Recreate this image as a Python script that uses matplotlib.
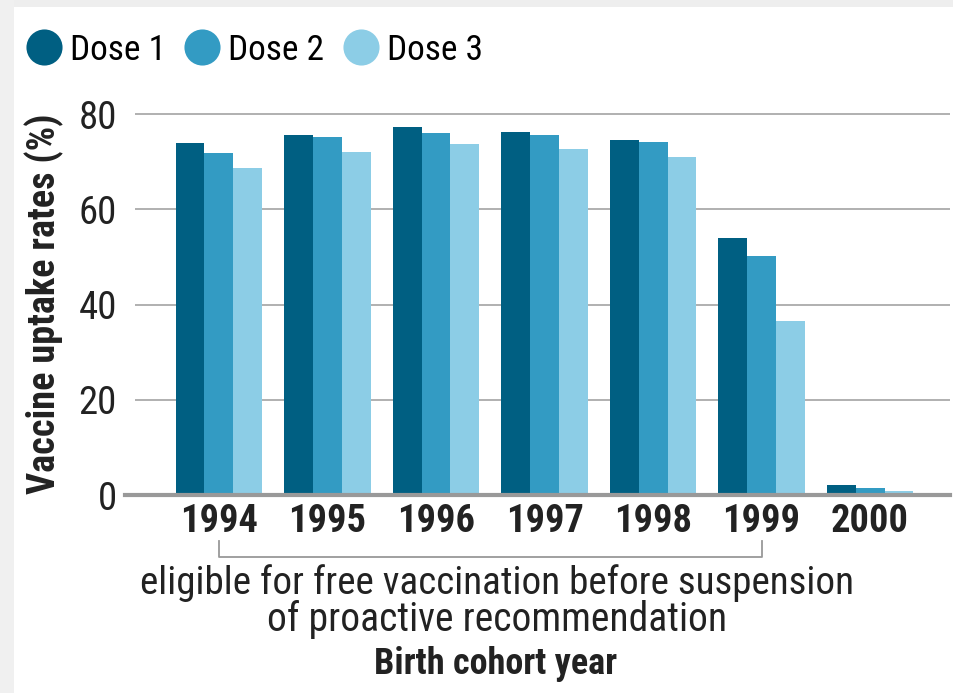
import matplotlib
matplotlib.use("Agg")
import matplotlib.pyplot as plt
from matplotlib import font_manager as fm
from matplotlib.lines import Line2D
from matplotlib.patches import Rectangle
import numpy as np

years = ["1994", "1995", "1996", "1997", "1998", "1999", "2000"]
dose1 = [73.9, 75.6, 77.3, 76.2, 74.5, 53.9, 2.1]
dose2 = [71.8, 75.1, 76.0, 75.6, 74.2, 50.2, 1.4]
dose3 = [68.7, 72.1, 73.8, 72.7, 70.9, 36.6, 0.8]
series_names = ["Dose 1", "Dose 2", "Dose 3"]
colors = ["#005f82", "#339bc3", "#8ccde6"]
yticks = [0, 20, 40, 60, 80]

# pick the narrowest available sans family
names = {f.name for f in fm.fontManager.ttflist}
chosen = None
for cand in ["Liberation Sans Narrow", "Roboto Condensed", "Open Sans Condensed",
             "Noto Sans Condensed", "Arial Narrow"]:
    if cand in names:
        chosen = cand
        break
stretch = "normal"
if chosen is None:
    for f in fm.fontManager.ttflist:
        st = f.stretch
        if f.name in ("Noto Sans", "Open Sans", "Roboto", "Inter") and \
                (st in ("condensed", "semi-condensed", "extra-condensed") or
                 (isinstance(st, (int, float)) and st < 500)):
            chosen = f.name
            stretch = "condensed"
            break
if chosen is None:
    chosen = "Liberation Sans" if "Liberation Sans" in names else "DejaVu Sans"
plt.rcParams['font.family'] = [chosen, 'DejaVu Sans']
plt.rcParams['font.stretch'] = stretch

W, H = 954, 693
fig = plt.figure(figsize=(W / 100, H / 100), dpi=100)
fig.patch.set_facecolor("white")

fig.patches.append(Rectangle((0, 1 - 7 / H), 1, 7 / H, transform=fig.transFigure,
                             facecolor="#eeeeee", edgecolor="none", zorder=0))
fig.patches.append(Rectangle((0, 0), 14 / W, 1, transform=fig.transFigure,
                             facecolor="#f0f0f0", edgecolor="none", zorder=0))

left, right = 135 / W, 950 / W
y0px, ytop = 495, 104.5
ax = fig.add_axes([left, 1 - y0px / H, right - left, (y0px - ytop) / H])

x = np.arange(len(years))
bw = 0.267
for i, (vals, c) in enumerate(zip([dose1, dose2, dose3], colors)):
    ax.bar(x + (i - 1) * bw, vals, width=bw, color=c, zorder=2, linewidth=0)

ax.set_ylim(0, 82)
ax.set_xlim(-0.774, 6.737)
ax.set_yticks(yticks)
ax.set_yticklabels([str(t) for t in yticks], fontsize=21, color="#222222")
ax.set_xticks(x)
ax.set_xticklabels(years, fontsize=22, fontweight="bold", color="#222222")
ax.tick_params(axis="y", length=0, pad=13)
ax.tick_params(axis="x", length=0, pad=6)
for s in ax.spines.values():
    s.set_visible(False)
for t in yticks[1:]:
    ax.axhline(t, color="#aaaaaa", linewidth=1.3, zorder=1)
ax.add_line(Line2D([-0.012, 1.0], [0, 0], transform=ax.transAxes, color="#999999",
                   linewidth=3, clip_on=False, zorder=3))

ylab = ax.set_ylabel("Vaccine uptake rates (%)", fontsize=21, fontweight="bold",
                     color="#222222")
ax.yaxis.set_label_coords((44 - 135) / (950 - 135), 0.49)
ylab.set_verticalalignment("center")

trans = ax.get_xaxis_transform()
yb_top = 1 - (541 - ytop) / (y0px - ytop)
yb_bot = 1 - (557 - ytop) / (y0px - ytop)
ax.add_line(Line2D([0, 0, 5, 5], [yb_top, yb_bot, yb_bot, yb_top], transform=trans,
                   color="#999999", linewidth=1.3, clip_on=False))

t1 = fig.text(497 / W, 1 - 583 / H, "eligible for free vaccination before suspension",
              ha="center", va="center", fontsize=24, color="#222222")
t2 = fig.text(497 / W, 1 - 619 / H, "of proactive recommendation",
              ha="center", va="center", fontsize=24, color="#222222")
t3 = fig.text(496 / W, 1 - 664 / H, "Birth cohort year",
              ha="center", va="center", fontsize=20, fontweight="bold", color="#222222")

handles = [Line2D([], [], marker="o", linestyle="none", markersize=26,
                  markerfacecolor=c, markeredgecolor="none") for c in colors]
leg = fig.legend(handles, series_names, loc="center left",
                 bbox_to_anchor=(28 / W, 1 - 50 / H), ncol=3, frameon=False,
                 fontsize=25, handlelength=0.9, handletextpad=0.3, columnspacing=0.6,
                 borderpad=0, borderaxespad=0)

# scale font sizes so text widths match the reference
fig.canvas.draw()
r = fig.canvas.get_renderer()


def fit(objs, ref, target, use_height=False, cap=None):
    bb = ref.get_window_extent(r)
    cur = bb.height if use_height else bb.width
    size = ref.get_fontsize() * target / cur
    if cap is not None:
        size = min(size, cap)
    for o in objs:
        o.set_fontsize(size)


fit([t1], t1, 715, cap=30)
fit([t2], t2, 460, cap=30)
fit([t3], t3, 268, cap=26)
fit([ylab], ylab, 380, use_height=True, cap=28)
fit(ax.get_xticklabels(), ax.get_xticklabels()[0], 78, cap=28)
fit(ax.get_yticklabels(), ax.get_yticklabels()[1], 40, cap=28)
fit(leg.get_texts(), leg.get_texts()[0], 96, cap=30)

fig.savefig("out.png", dpi=100, facecolor="white")
